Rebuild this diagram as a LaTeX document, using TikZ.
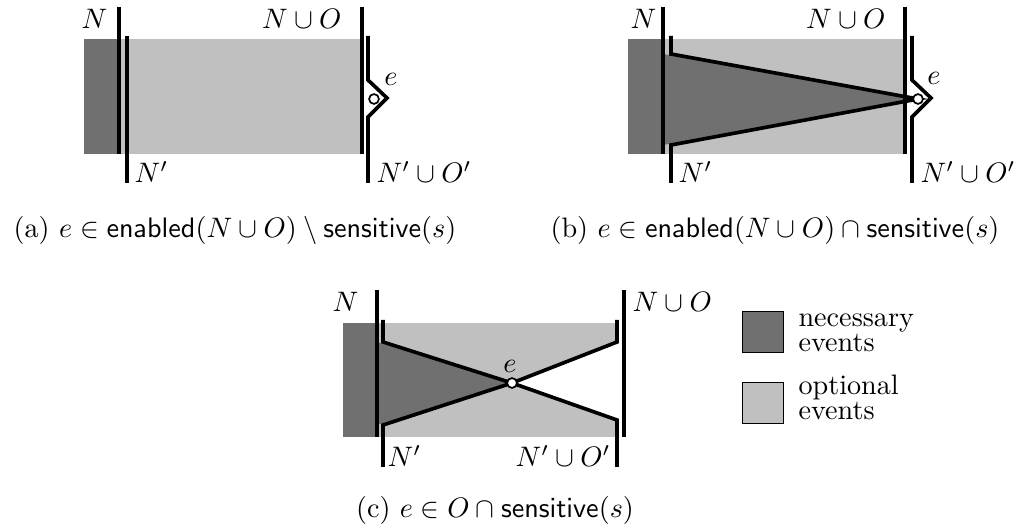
\documentclass[tikz,border=0pt]{standalone}
\usepackage{amssymb, amsmath}
\usepackage{color}
\usepackage{tikz}
\definecolor{necc}{RGB}{112, 112, 112}
\definecolor{opti}{RGB}{191, 192, 191}

\begin{document}
\begin{tikzpicture}[
   x=0.355pt, y=-0.355pt,
   bar/.style={draw=black, line width=1.3pt},
   evt/.style={circle, draw=black, fill=white, line width=0.6pt,
               inner sep=0, minimum size=3.5pt},
   lbl/.style={inner sep=0},
   legbox/.style={rectangle, draw=black, line width=0.4pt,
                  inner sep=0, minimum width=14.5pt, minimum height=14.5pt},
   legtxt/.style={align=left, inner sep=0, anchor=base west}
  ]

  \useasboundingbox (0, 0) rectangle (1019, 532);

  % (a) e enabled but not sensitive
  \begin{scope}[shift={(0, 0)}]
    \fill[necc] (84, 39) rectangle (120, 154);
    \fill[opti] (120, 39) rectangle (362, 154);

    \draw[bar] (119, 7) -- (119, 154);
    \draw[bar] (127, 36) -- (127, 183);
    \draw[bar] (362, 7) -- (362, 154);
    \draw[bar] (368, 36) -- (368, 80) -- (387, 98) -- (368, 117) -- (368, 183);

    \node (ea) at (374, 99) [evt] {};
    \node (Na) at (108, 19) [lbl, anchor=east] { $N$ };
    \node (Pa) at (342, 19) [lbl, anchor=east] { $N \cup O$ };
    \node (Qa) at (134, 172) [lbl, anchor=west] { $N'$ };
    \node (Ra) at (376, 172) [lbl, anchor=west] { $N' \cup O'$ };
    \node (La) at (391, 79) [lbl] { $e$ };
  \end{scope}

  % (b) e enabled and sensitive
  \begin{scope}[shift={(544, 0)}]
    \fill[necc] (84, 39) rectangle (120, 154);
    \fill[opti] (120, 39) rectangle (362, 154);
    \fill[necc] (119, 54) -- (374, 99) -- (119, 145) -- cycle;

    \draw[bar] (119, 7) -- (119, 154);
    \draw[bar] (127, 36) -- (127, 54) -- (374, 99) -- (127, 145) -- (127, 183);
    \draw[bar] (361, 7) -- (361, 154);
    \draw[bar] (368, 36) -- (368, 80) -- (387, 98) -- (368, 117) -- (368, 183);

    \node (eb) at (374, 99) [evt] {};
    \node (Nb) at (113, 19) [lbl, anchor=east] { $N$ };
    \node (Pb) at (342, 19) [lbl, anchor=east] { $N \cup O$ };
    \node (Qb) at (134, 172) [lbl, anchor=west] { $N'$ };
    \node (Rb) at (376, 172) [lbl, anchor=west] { $N' \cup O'$ };
    \node (Lb) at (390, 78) [lbl] { $e$ };
  \end{scope}

  % (c) e optional and sensitive
  \begin{scope}[shift={(0, 0)}]
    \fill[necc] (343, 323) rectangle (377, 437);
    \fill[opti] (377, 323) rectangle (617, 437);
    \fill[necc] (377, 342) -- (512, 383) -- (377, 425) -- cycle;
    \fill[white] (617, 342) -- (512, 383) -- (617, 420) -- cycle;

    \draw[bar] (377, 290) -- (377, 437);
    \draw[bar] (383, 320) -- (383, 342) -- (512, 383) -- (383, 425) -- (383, 467);
    \draw[bar] (617, 320) -- (617, 342) -- (512, 383) -- (617, 420) -- (617, 467);
    \draw[bar] (624, 290) -- (624, 437);

    \node (ec) at (512, 383) [evt] {};
    \node (Nc) at (359, 302) [lbl, anchor=east] { $N$ };
    \node (Pc) at (632, 302) [lbl, anchor=west] { $N \cup O$ };
    \node (Qc) at (387, 456) [lbl, anchor=west] { $N'$ };
    \node (Rc) at (515, 456) [lbl, anchor=west] { $N' \cup O'$ };
    \node (Lc) at (510, 366) [lbl] { $e$ };
  \end{scope}

  % Legend
  \node (kn) at (763, 332) [legbox, fill=necc] {};
  \node (ko) at (763, 403) [legbox, fill=opti] {};
  \node (tn) at (798, 352) [legtxt] {necessary\\[-3.1pt]events};
  \node (to) at (798, 420) [legtxt] {optional\\[-3.1pt]events};

  % Captions
  \node (ca) at (235, 230) { (a) $e \in \mathsf{enabled}(N \cup O) \setminus \mathsf{sensitive}(s)$ };
  \node (cb) at (775, 230) { (b) $e \in \mathsf{enabled}(N \cup O) \cap \mathsf{sensitive}(s)$ };
  \node (cc) at (495, 510) { (c) $e \in O \cap \mathsf{sensitive}(s)$ };

\end{tikzpicture}
\end{document}
